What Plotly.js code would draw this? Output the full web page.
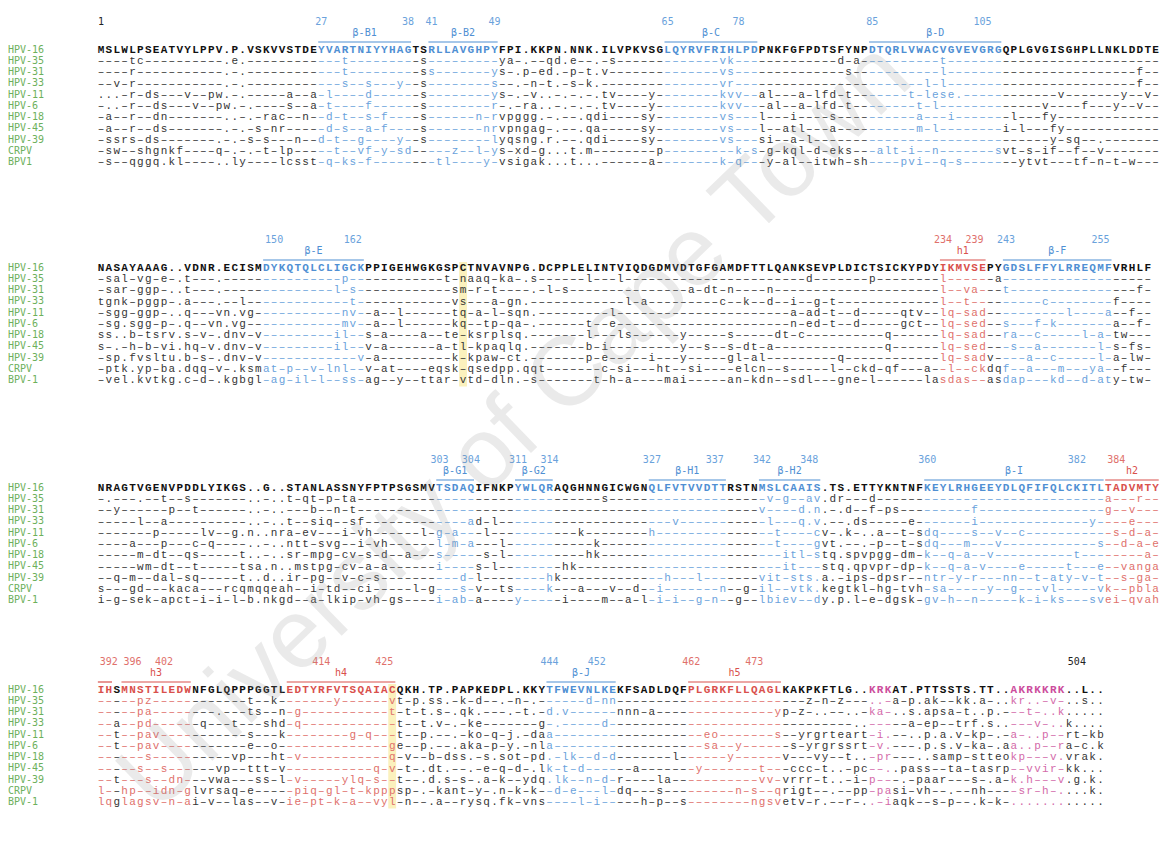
<!DOCTYPE html>
<html><head><meta charset="utf-8">
<script src="https://cdn.plot.ly/plotly-3.0.1.min.js"></script>
<style>html,body{margin:0;padding:0;background:#fff}#chart{width:1169px;height:848px}</style>
</head><body><div id="chart"></div>
<script>
// ---------------- DATA ----------------
const namesBlock1 = ['HPV-16','HPV-35','HPV-31','HPV-33','HPV-11','HPV-6','HPV-18','HPV-45','HPV-39','CRPV','BPV1'];
const namesOther  = ['HPV-16','HPV-35','HPV-31','HPV-33','HPV-11','HPV-6','HPV-18','HPV-45','HPV-39','CRPV','BPV-1'];

const block1 = [
 ["MSLWLPSEAT","VYLPPV.P.V","SKVVSTDEYV","ARTNIYYHAG","TSRLLAVGHP","YFPI.KKPN.","NNK.ILVPKV","SGLQYRVFRI","HLPDPNKFGF","PDTSFYNPDT","QRLVWACVGV","EVGRGQPLGV","GISGHPLLNK","LDDTE"],
 ["----tc----","------.e.-","----------","-t--------","-s--------","-ya-.--qd.","e--.-s----","---------v","k---------","----d-a---","-------t--","----------","----------","-----"],
 ["----r-----","------.-.-","----------","-t--------","-ss-------","ys-.p-ed.-","p-t.v-----","---------v","s---------","-----s----","-------l--","----------","----------","--f--"],
 ["--v-r-----","------.-.-","----------","-s--s---y-","-s--------","s--.-n-t.-","s-k.------","---------v","r---------","----------","-----l-l--","----------","----------","--f--"],
 ["...-r-ds--","-v--pw.-.-","----a--a-l","----d-----","-s--------","ys-.-v..-.","-.-.tv----","y--------k","vv--al---a","-lfd-t----","---t-lese.","----------","--v-------","y--v-"],
 ["-..-r--ds-","--v--pw.-.","----s--a-t","----f-----","-s--------","r-.-ra..-.","-.-.tv----","y--------k","vv---al--a","-lfd-t----","----t-l---","----------","v----f---y","--v--"],
 ["-a--r--dn-","------..-.","-rac--n--d","-t--s-f---","-s------n-","rvpggg.-.-","-.qdi----s","y--------v","s---l---i-","---s------","----a---i-","------l---","fy--------","-----"],
 ["-a--r--ds-","------.-.-","s-nr-----d","-s--a-f---","-s-------n","rvpngag-.-","-.qa-----s","y--------v","s---l--atl","---a------","----m-l---","-----i-l--","-fy-------","-----"],
 ["-ssrs-ds--","-----.-.-s","-s---n--d-","t--g----y-","-s--------","lyqsng.r.-","-.qdi----s","y--------v","s---si--a-","l---------","----------","----------","-y-sq--.--","-----"],
 ["-sw--shgnk","f----q-.-.","-t-lp-----","t--vf-y-sd","-----z--l-","ys-xd-g...","t.m-------","-p--------","-k-s-g-kql","-d-eks---a","lt-i--n---","----svt-s-","if--f--v--","-----"],
 ["-s--qggq.k","l----..ly-","---lcsst-q","-ks-f-----","---tl----y","-vsigak...","t...------","a--------k","-q---y-al-","-itwh-sh--","--pvi--q-s","-------ytv","t---tf-n-t","-w---"]
];
const block2 = [
 ["NASAYAAAG.",".VDNR.ECIS","MDYKQTQLCL","IGCKPPIGEH","WGKGSPCTNV","AVNPG.DCPP","LELINTVIQD","GDMVDTGFGA","MDFTTLQANK","SEVPLDICTS","ICKYPDYIKM","VSEPYGDSLF","FYLRREQMFV","RHLF"],
 ["-sal-vg-e-",".t---.----","----------","-p--------","----t-naaq","-ka-.s----","--l---l---","----------","----------","d-------p-","-------l--","----a-----","----------","----"],
 ["-sar-ggp-.",".t---.----","----------","l-s-------","-----sm-r-","t----.-l-s","----------","-----a-dt-","n----n----","----------","-------l--","va---t----","----------","--f-"],
 ["tgnk-pggp-",".a---.--l-","----------","--t-------","-----vs---","a-gn.-----","-------l-a","---------c","--k--d--i-","-g-t------","-------l--","t---------","c--------f","----"],
 ["-sgg-ggp-.",".q---vn.vg","----------","-nv--a--l-","-----tq-a-","l-sqn.----","-----l----","----------","--------a-","ad-t--d---","--qtv--lq-","sad-------","---l----a-","-f--"],
 ["-sg.sgg-p-",".q--vn.vg-","----------","-mv--a--l-","-----kq--t","p-qa-.----","--t--e----","----------","--------n-","ed-t--d---","--gct--lq-","sed--s---f","-k-------a","--f-"],
 ["ss..b-tsrv",".s-v-.dnv-","v---------","il--s-a---","-a--te-ksr","plsq.-----","--l---ls--","----y-----","s-----dt-c","----------","q------lq-","sad--ra--c","-----l-a-t","w---"],
 ["s-.-h-b-vi",".hq-v.dnv-","v---------","il--v-a---","---a-tl-kp","aqlq.-----","--b-i-----","----y--s--","s-dt-a----","----------","q------lq-","sed---s--a","-------l-s","-fs-"],
 ["-sp.fvsltu",".b-s-.dnv-","v---------","---v-a----","-----k-kpa","w-ct.-----","--p-e-----","i---y-----","gl-al-----","----q-----","-------lq-","sadv----a-","-c-----l-a","-lw-"],
 ["-ptk.yp-ba",".dqq-v-.ks","mat-p--v-l","nl--v-at--","--eqsk-qse","dpp.qqt---","----c-si--","-ht--si---","-elcn--s--","---l--ckd-","qf---a--l-","-ckdqf--a-","--m---ya--","f---"],
 ["-vel.kvtkg",".c-d-.kgbg","l-ag-il-l-","-ss-ag--y-","-ttar-vtd-","dln.-s----","---t-h-a--","--mai-----","an-kdn--sd","l---gne-l-","-----lasda","s--asdap--","-kd--d-aty","-tw-"]
];
const block3 = [
 ["NRAGTVGENV","PDDLYIKGS.",".G..STANLA","SSNYFPTPSG","SMVTSDAQIF","NKPYWLQRAQ","GHNNGICWGN","QLFVTVVDTT","RSTNMSLCAA","IS.TS.ETTY","KNTNFKEYLR","HGEEYDLQFI","FQLCKITLTA","DVMTY"],
 ["-.---.--t-","-s-------.",".-..t-qt-p","-ta-------","----------","----------","----s-----","----------","-----v-g--","av.dr---d-","----------","----------","--------a-","--r--"],
 ["--y------p","--t------.",".-..---b--","n-t-------","----------","----------","----------","----------","----v----d",".n.-.d--f-","ps--------","-f--------","--------g-","-v---"],
 ["-----l--a-","---------.",".-..t--siq","--sf------","-------ad-","l---------","----------","---v------","-----l---q",".v.--.ds--","---e------","-i--------","------y---","-e---"],
 ["-------p--","---lv--g.n","..nra-ev--","-i-vh-----","-l-g-a---l","----------","-k--------","h---------","------t---","-cv-.k-..a","--t-sdq---","-s--v--c--","---------s","-d-a-"],
 ["----a---p-","--c-q----.",".-..ntt-sv","g--i-vh---","---l-m-a--","-l--------","---k------","----------","------t---","-gvt.--.-p","--t-sdq---","m---v-----","-------s--","d-a-e"],
 ["-----m-dt-","-qs-----t.",".-..sr-mpg","-cv-s-d--a","---s-----s","-l--------","--hk------","----------","-------itl","-stq.spvpg","g-dm-k--q-","a--v------","----t-----","---a-"],
 ["-----wm-dt","--t-----ts","a.n..mstpg","-cv-a-a---","---i----s-","l--------h","k---------","----------","-------it-","--stq.qpvp","r-dp-k--q-","a-v----e--","---t---e--","vanga"],
 ["--q-m--dal","-sq-----t.",".d..ir-pg-","-v-c-s----","------d-l-","-------hk-","----------","--h---l---","----vit-st","s.a.-ips-d","psr--ntr-y","-r---nn--t","-aty-v-t--","s-ga-"],
 ["s---gd---k","aca---rcqm","qqeah--i-t","d--ci-----","l-g---s-v-","-ts----k--","-a---v--d-","-i-------n","--g-il--vt","k.kegtkl-h","g-tvh-sa--","---y--g---","vl-----vk-","-pbla"],
 ["i-g-sek-ap","ct-i-i-l-b",".nkgd--a-l","kip-vh-gs-","---i-ab-a-","---y-----i","----m--a-l","-i-i--g-n-","-g--lbiev-","-dy.p.l-e-","dgsk-gv-h-","-n-----k-i","-ks---svei","-qvah"]
];
const block4 = [
 ["IHSMNSTILE","DWNFGLQPPP","GGTLEDTYRF","VTSQAIACQK","H.TP.PAPKE","DPL.KKYTFW","EVNLKEKFSA","DLDQFPLGRK","FLLQAGLKAK","PKFTLG..KR","KAT.PTTSST","S.TT..AKRK","KRK..L.."],
 ["-----pz---","---------t","--k-------","y------vt-","p.ss.-k-d-","-.-n-.----","--d-nn----","----------","----------","z-n-z---..","-a-p.ak--k","k.a-..kr..","-v-..s.."],
 ["-----pa---","-----.---t","s--n-g----","-------t-t","-t.s-.qk.-","--.-t.-d.v","------nnn-","a---------","------yp-z","-..--..-ka","-..s.apsa-","t..p.---t-","..k....."],
 ["--a--pd---","---q---t--","-shd-q----","--------t-","-t.v-.-ke-","------g-.-","----d-----","----------","----------","------..--","---a-ep--t","rf.s..---v","-..k...."],
 ["--t--pav--","---------s","---k------","--g-q---t-","-p.--.-ko-","q-j.-daa--","----------","-------eo-","------s--y","rgrteart-i",".--..p.a.v","-kp-.-a-..","p--rt-kb"],
 ["--t--pav--","---------e","--o-------","-------ge-","-p.--.aka-","p-y.-nla--","----------","-------sa-","-y------s-","yrgrssrt-v",".---.p.s.v","-ka-.aa..p","--ra-c.k"],
 ["------s---","-------vp-","--ht-v----","-------q-v","--b-dss.-s",".sot-pd.-l","k--d-d----","---l------","y------v--","-vy--t..-p","r---..samp","-stteokp--","-v.vrak."],
 ["-----s--s-","-----vp--t","tt-v------","-----q-v-t","-.dt.--.-e","-q-d-.lk-t","-d------a-","------y---","----t---cc","c-t..-pc--","..pass--ta","-tasrp--vv","ir-kk..."],
 ["--t---s--d","n---vwa---","ss-l-v----","-ylq-s--t-","-.d.s-s-.a","-k--ydq.lk","--n-d-r---","-la-------","----vv-vrr","r-t..-i-p-","--.-paar--","-s-.a-k.h-","--v.g.k."],
 ["l--hp--idn","-glvrsaq-e","-----piq-g","l-t-kpppsp","-.-kant-y-",".n-k-k--d-","e---l-dq--","-s--------","-n-s--qrig","t--.--pp-p","asi-vh--.-","-nh----sr-","h-....k."],
 ["lqglagsv-n","-ai-v--las","--v-ie-pt-","k-a--vyl-n","--.a--rysq",".fk-vns---","-l-i-----h","-p--s-----","---ngsvetv","-r.--r-..-","iaqk--s-p-","-.k-k-....","........"]
];

// secondary-structure elements: alignment block, first and last alignment column
const elementNames  = ['β-B1','β-B2','β-C','β-D','β-E','h1','β-F','β-G1','β-G2','β-H1','β-H2','β-I','h2','','h3','h4','β-J','h5','',''];
const elementKinds  = ['strand','strand','strand','strand','strand','helix','strand','strand','strand','strand','strand','strand','helix','helix','helix','helix','strand','helix','nls','nls'];
const elementBlock  = [0,0,0,0,1,1,1,2,2,2,2,2,2,3,3,3,3,3,3,3];
const elementCol0   = [28,42,72,98,21,107,115,43,53,70,84,105,128,0,3,24,57,75,98,116];
const elementCol1   = [39,50,83,114,33,112,128,47,57,79,91,127,134,1,11,37,65,86,100,122];

// residue numbers printed above the alignment (block, column)
const residueText  = ['1','27','38','41','49','65','78','85','105','150','162','234','239','243','255','303','304','311','314','327','337','342','348','360','382','384','392','396','402','414','425','444','452','462','473','504'];
const residueBlock = [0,0,0,0,0,0,0,0,0,1,1,1,1,1,1,2,2,2,2,2,2,2,2,2,2,2,3,3,3,3,3,3,3,3,3,3];
const residueCol   = [0,28,39,42,50,72,81,98,112,22,32,107,111,115,127,43,47,53,57,70,78,84,90,105,124,129,1,4,8,28,36,57,63,75,83,124];

// conserved cysteine columns (block, column)
const cysBlock = [1,3];
const cysCol   = [46,37];

// ---------------- LAYOUT CONSTANTS ----------------
const W = 1169, H = 848;
const PITCH = 7.87, X0 = 101;
const blockTop = [50, 268, 488, 690];
const ROWGAP = 11.25;
const px2x = px => (px - X0) / PITCH;

const COLORS = {
  refDefault:'#111111', otherDefault:'#353535',
  strand:'#4f8fd3', strandLight:'#6aa2dc',
  helix:'#d9504c', helixLight:'#e0706b',
  nls:'#cc4c9c', nlsLight:'#d36aa9',
  label:'#6db05c', num:'#222222', hl:'#fbf1bd'
};

const blocks = [block1, block2, block3, block4].map(rows => {
  const strs = rows.map(r => r.join(''));
  const n = strs[0].length;
  return strs.map(s => s.length >= n ? s.slice(0, n) : s + '-'.repeat(n - s.length));
});

const colKind = blocks.map(rows => new Array(rows[0].length).fill(null));
const shapes = [];
const elLabel = {x:[], y:[], text:[], color:[]};
elementNames.forEach((name, i) => {
  const b = elementBlock[i], c0 = elementCol0[i], c1 = elementCol1[i], kind = elementKinds[i];
  for (let c = c0; c <= c1; c++) colKind[b][c] = kind;
  if (kind === 'nls') return;
  const col = kind === 'strand' ? COLORS.strand : COLORS.helix;
  shapes.push({type:'line', xref:'x', yref:'y', x0:c0-0.4, x1:c1+0.4, y0:blockTop[b]-8, y1:blockTop[b]-8,
               line:{color:col, width:1.2}});
  if (name) { elLabel.x.push((c0+c1)/2); elLabel.y.push(blockTop[b]-16.5); elLabel.text.push(name); elLabel.color.push(col); }
});

cysBlock.forEach((b, i) => {
  shapes.push({type:'rect', xref:'x', yref:'y', layer:'below', x0:cysCol[i]-0.5, x1:cysCol[i]+0.5,
    y0:blockTop[b]-6, y1:blockTop[b]+10*ROWGAP+6, fillcolor:COLORS.hl, line:{width:0}});
});

const ref = {x:[], y:[], text:[], color:[]}, oth = {x:[], y:[], text:[], color:[]};
blocks.forEach((rows, b) => rows.forEach((s, i) => {
  const tgt = i === 0 ? ref : oth;
  for (let c = 0; c < s.length; c++) { const ch = s[c]; if (ch === ' ') continue;
    const k = colKind[b][c];
    let col = i === 0 ? COLORS.refDefault : COLORS.otherDefault;
    if (k === 'strand') col = i === 0 ? COLORS.strand : COLORS.strandLight;
    else if (k === 'helix') col = i === 0 ? COLORS.helix : COLORS.helixLight;
    else if (k === 'nls') col = i === 0 ? COLORS.nls : COLORS.nlsLight;
    tgt.x.push(c); tgt.y.push(blockTop[b] + i*ROWGAP); tgt.text.push(ch === '-' ? '–' : ch); tgt.color.push(col); }
}));

const base = {type:'scatter', mode:'text', hoverinfo:'skip', showlegend:false, cliponaxis:false, textposition:'middle center'};
const traces = [];
traces.push(Object.assign({}, base, {x:oth.x, y:oth.y, text:oth.text,
  textfont:{family:'Liberation Mono, DejaVu Sans Mono, monospace', size:11, color:oth.color}}));
traces.push(Object.assign({}, base, {x:ref.x, y:ref.y, text:ref.text,
  textfont:{family:'Liberation Mono, DejaVu Sans Mono, monospace', size:11, weight:700, color:ref.color}}));

const nm = {x:[], y:[], text:[]};
blocks.forEach((rows, b) => rows.forEach((s, i) => {
  nm.x.push(px2x(8)); nm.y.push(blockTop[b] + i*ROWGAP); nm.text.push((b===0?namesBlock1:namesOther)[i]); }));
traces.push(Object.assign({}, base, {x:nm.x, y:nm.y, text:nm.text, textposition:'middle right',
  textfont:{family:'DejaVu Sans Mono, monospace', size:10, color:COLORS.label}}));

traces.push(Object.assign({}, base, {x:elLabel.x, y:elLabel.y, text:elLabel.text,
  textfont:{family:'DejaVu Sans Mono, monospace', size:10, color:elLabel.color}}));

const nums = {x:[], y:[], text:[], color:[]};
residueText.forEach((t, i) => { const b = residueBlock[i], c = residueCol[i]; const k = colKind[b][c];
  nums.x.push(c); nums.y.push(blockTop[b]-28); nums.text.push(t);
  nums.color.push(k==='strand'?COLORS.strandLight:(k==='helix'?COLORS.helixLight:COLORS.num)); });
traces.push(Object.assign({}, base, {x:nums.x, y:nums.y, text:nums.text,
  textfont:{family:'DejaVu Sans Mono, monospace', size:10, color:nums.color}}));

const layout = {
  width:W, height:H, margin:{l:0,r:0,t:0,b:0}, paper_bgcolor:'#fff', plot_bgcolor:'#fff',
  xaxis:{range:[px2x(0), px2x(W)], visible:false, fixedrange:true},
  yaxis:{range:[H, 0], visible:false, fixedrange:true},
  shapes:shapes,
  annotations:[{text:'University of Cape Town', xref:'paper', yref:'paper', x:0.438, y:0.5,
    showarrow:false, textangle:-44, font:{family:'Liberation Sans, Arial, sans-serif', size:98, color:'rgba(150,150,150,0.2)'}}]
};
Plotly.newPlot('chart', traces, layout, {staticPlot:true, displayModeBar:false});
</script></body></html>
